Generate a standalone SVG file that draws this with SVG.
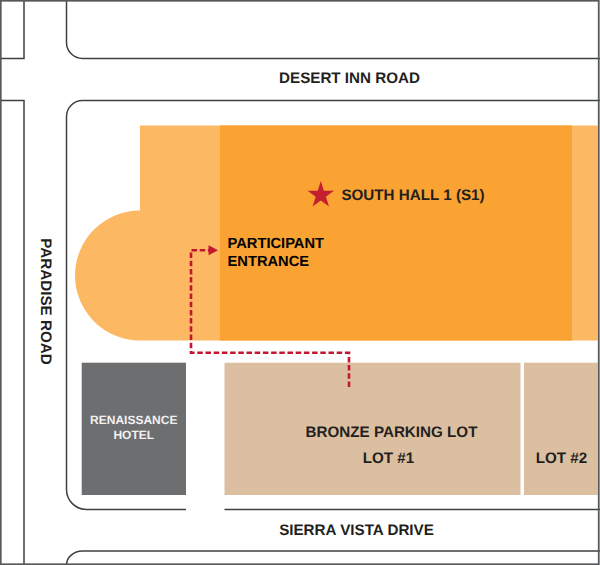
<svg xmlns="http://www.w3.org/2000/svg" width="600" height="565" viewBox="0 0 600 565">
<style>
.road{fill:none;stroke:#3f4042;stroke-width:1.5}
.t{font-family:"Liberation Sans",Arial,sans-serif;font-weight:700;fill:#231f20;text-anchor:middle;text-rendering:geometricPrecision}
.s14{font-size:15.2px}
.p{font-size:14.7px;fill:#000;text-anchor:start}
.w{fill:#f1f1f2;font-size:12px}
.route{fill:none;stroke:#c4172f;stroke-width:2.600;stroke-dasharray:5.500 2.700}
</style>
<rect width="600" height="565" fill="#fff"/>
<g id="roads">
<path class="road" d="M0 58.500H24V0"/>
<path class="road" d="M66.500 0V42.500A16 16 0 0 0 82.500 58.500H600"/>
<path class="road" d="M0 100.500H24V565"/>
<path class="road" d="M600 100.500H82.500A16 16 0 0 0 66.500 116.500V489.500A20 20 0 0 0 86.500 509.500H186"/>
<path class="road" d="M224.500 509.500H600"/>
<path class="road" d="M66.500 565A16 14 0 0 1 82.500 551H600"/>
<rect x="0.750" y="0.750" width="598" height="563.500" fill="none" stroke="#58595b" stroke-width="1.800"/>
</g>
<g id="south-hall">
<path d="M140 125.500H598V340.500H140A65 65 0 0 1 140 210.500Z" fill="#fdb863"/>
<rect x="220" y="125.500" width="352" height="215" fill="#faa332"/>
<polygon points="320.800,181 323.900,190.800 334,190.800 325.900,196.700 329,206.400 320.800,200.400 312.600,206.400 315.700,196.700 307.600,190.800 317.700,190.800" fill="#c4202f"/>
<text class="t s14" x="413" y="200">SOUTH HALL 1 (S1)</text>
</g>
<g id="participant-entrance">
<text class="t p" x="227.500" y="248">PARTICIPANT</text>
<text class="t p" x="227.500" y="265.500">ENTRANCE</text>
</g>
<g id="renaissance-hotel">
<rect x="81.700" y="362.700" width="104.300" height="132.300" fill="#6d6e70"/>
<text class="t w" x="133.800" y="424.300">RENAISSANCE</text>
<text class="t w" x="133.800" y="439">HOTEL</text>
</g>
<g id="lot-1">
<rect x="224.500" y="362.700" width="296" height="132.300" fill="#dcbfa0"/>
<text class="t s14" x="391.500" y="437">BRONZE PARKING LOT</text>
<text class="t s14" x="388.500" y="463">LOT #1</text>
</g>
<g id="lot-2">
<rect x="524" y="362.700" width="74" height="132.300" fill="#dcbfa0"/>
<text class="t s14" x="561.500" y="463">LOT #2</text>
</g>
<g id="road-labels">
<text class="t s14" x="349.500" y="83">DESERT INN ROAD</text>
<text class="t s14" x="356.500" y="535">SIERRA VISTA DRIVE</text>
<text class="t s14" transform="translate(40.500 301.500) rotate(90)">PARADISE ROAD</text>
</g>
<g id="connectors">
<path class="route" d="M349 387V352.800H191V250.300H209"/>
<polygon points="208.500,245.300 218,250.300 208.500,255.300" fill="#c4172f"/>
</g>
</svg>
